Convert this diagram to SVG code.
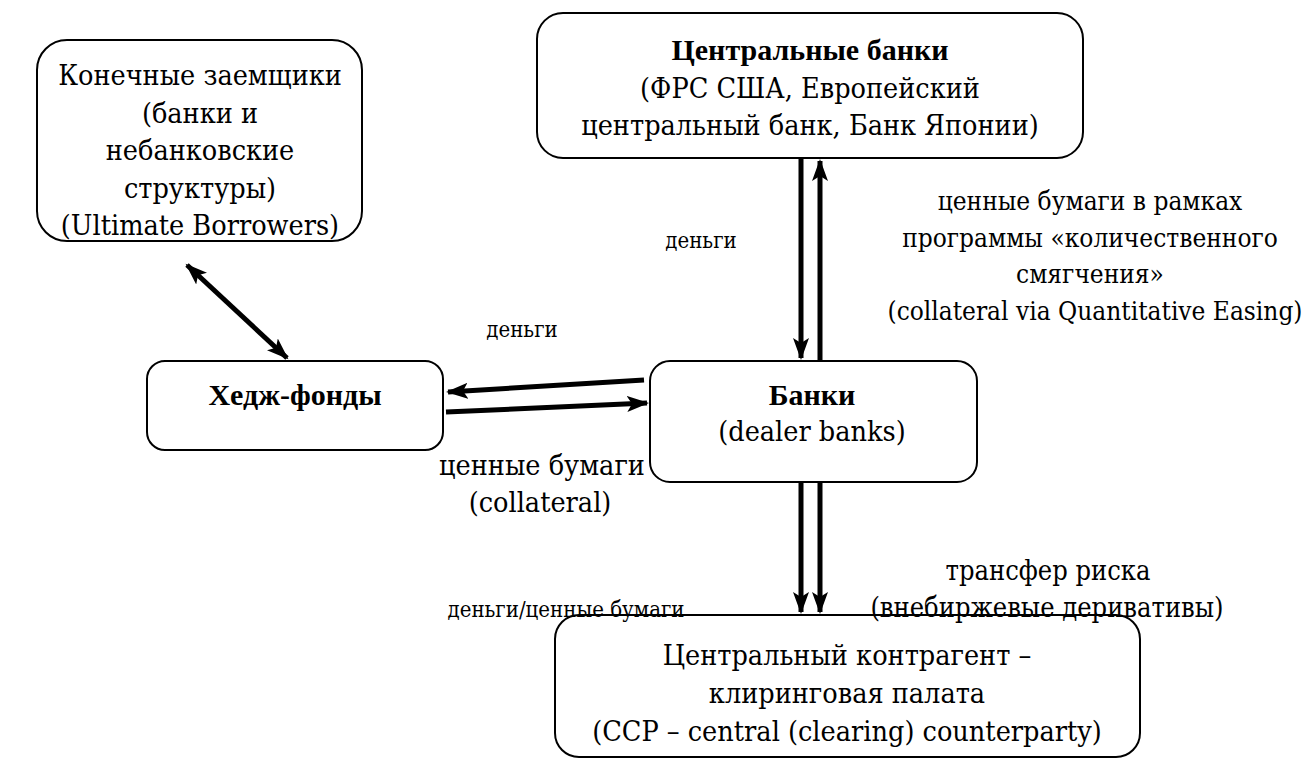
<svg xmlns="http://www.w3.org/2000/svg" width="1309" height="784" viewBox="0 0 1309 784">
<defs>
<style>
.box{fill:#fff;stroke:#000;stroke-width:2}
.t{font-family:"DejaVu Serif Condensed","DejaVu Serif",serif;font-stretch:condensed;font-size:28.5px;fill:#000;text-anchor:middle}
.q{font-size:26px}
.r{font-size:27px}
.b{font-family:"Liberation Serif","Times New Roman",serif;font-stretch:normal;font-weight:bold;font-size:30px}
.l{font-family:"DejaVu Serif Condensed","DejaVu Serif",serif;font-stretch:condensed;font-size:22px;fill:#000;text-anchor:middle}
.c{stroke:#000;stroke-width:5;fill:none}
</style>
<marker id="ah" markerUnits="userSpaceOnUse" markerWidth="24" markerHeight="18" refX="20" refY="8" orient="auto-start-reverse" viewBox="0 0 24 16">
<path d="M0,0 L22,8 L0,16 L5,8 Z" fill="#000"/>
</marker>
</defs>
<rect width="1309" height="784" fill="#fff"/>
<g id="connectors">
<line class="c" x1="801" y1="158" x2="801" y2="358" marker-end="url(#ah)"/>
<line class="c" x1="820" y1="361" x2="820" y2="161" marker-end="url(#ah)"/>
<line class="c" x1="801" y1="482" x2="801" y2="612" marker-end="url(#ah)"/>
<line class="c" x1="820" y1="482" x2="820" y2="612" marker-end="url(#ah)"/>
<line class="c" x1="644" y1="380" x2="448" y2="392" marker-end="url(#ah)"/>
<line class="c" x1="446" y1="412" x2="647" y2="403" marker-end="url(#ah)"/>
<line class="c" x1="187" y1="265" x2="287" y2="358" marker-start="url(#ah)" marker-end="url(#ah)"/>
</g>
<g id="central-banks">
<rect class="box" x="537" y="13" width="546" height="145" rx="26"/>
<text class="t b" x="810" y="60">Центральные банки</text>
<text class="t" x="810" y="98">(ФРС США, Европейский</text>
<text class="t" x="810" y="135">центральный банк, Банк Японии)</text>
</g>
<g id="ultimate-borrowers">
<rect class="box" x="37" y="40" width="325" height="201" rx="30"/>
<text class="t" x="200" y="85">Конечные заемщики</text>
<text class="t" x="200" y="123">(банки и</text>
<text class="t" x="200" y="160">небанковские</text>
<text class="t" x="200" y="198">структуры)</text>
<text class="t" x="200" y="235">(Ultimate Borrowers)</text>
</g>
<g id="hedge-funds">
<rect class="box" x="147" y="361" width="296" height="89" rx="18"/>
<text class="t b" x="295" y="405">Хедж-фонды</text>
</g>
<g id="banks">
<rect class="box" x="650" y="361" width="327" height="121" rx="20"/>
<text class="t b" x="812" y="405">Банки</text>
<text class="t" x="812" y="441">(dealer banks)</text>
</g>
<g id="ccp">
<rect class="box" x="555" y="615" width="585" height="142" rx="24"/>
<text class="t" x="847" y="665">Центральный контрагент –</text>
<text class="t" x="847" y="703">клиринговая палата</text>
<text class="t" x="847" y="741">(CCP – central (clearing) counterparty)</text>
</g>
<g id="labels">
<text class="l" x="701" y="248">деньги</text>
<text class="l" x="522" y="337">деньги</text>
<text class="l" x="566" y="617">деньги/ценные бумаги</text>
<text class="t q" x="1090" y="210">ценные бумаги в рамках</text>
<text class="t q" x="1090" y="247">программы «количественного</text>
<text class="t q" x="1090" y="283">смягчения»</text>
<text class="t q" x="1095" y="320">(collateral via Quantitative Easing)</text>
<text class="t" x="542" y="475">ценные бумаги</text>
<text class="t" x="540" y="512">(collateral)</text>
<text class="t r" x="1048" y="580">трансфер риска</text>
<text class="t r" x="1047" y="617">(внебиржевые деривативы)</text>
</g>
</svg>
